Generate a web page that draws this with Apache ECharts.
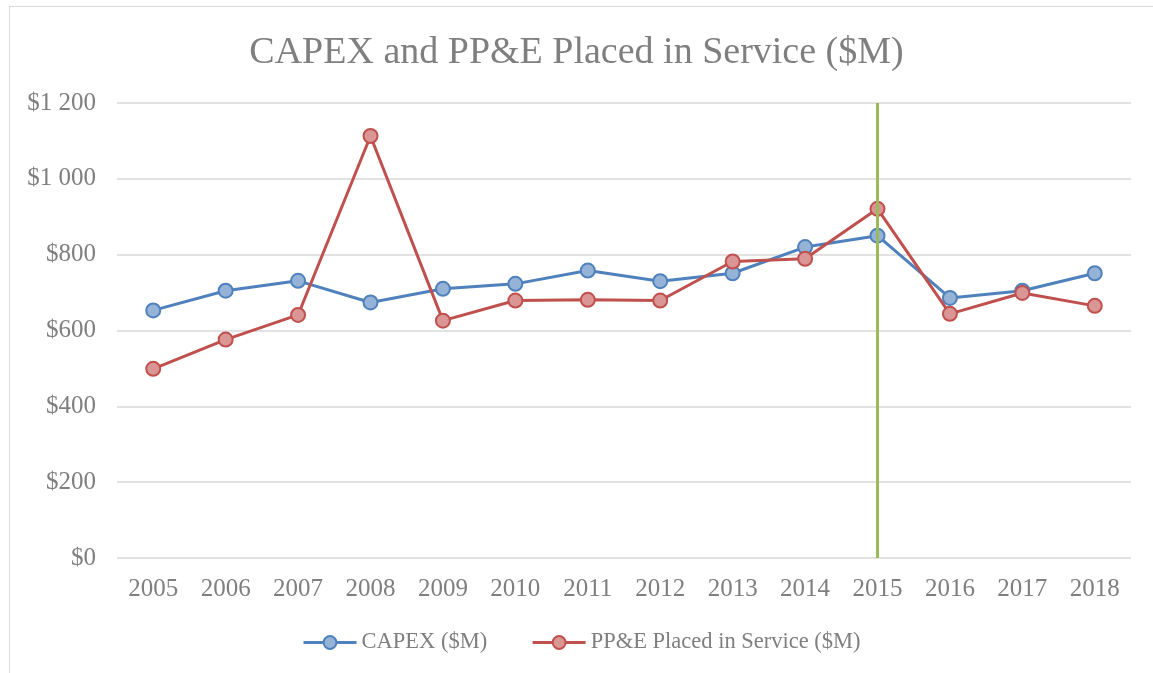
<!DOCTYPE html>
<html>
<head>
<meta charset="utf-8">
<script src="https://cdn.jsdelivr.net/npm/echarts@6/dist/echarts.min.js"></script>
<style>
  html, body { margin: 0; padding: 0; background: #fff; }
  #frame { position: absolute; left: 9px; top: 6px; width: 1160px; height: 680px; border: 1.5px solid #d9d9d9; box-sizing: border-box; }
  #chart { position: absolute; left: 0; top: 0; width: 1153px; height: 673px; }
</style>
</head>
<body>
<div id="frame"></div>
<div id="chart"></div>
<script>
// 数据
var years = ['2005', '2006', '2007', '2008', '2009', '2010', '2011', '2012', '2013', '2014', '2015', '2016', '2017', '2018'];
var capex = [653, 705, 731, 674, 710, 723, 758, 730, 751, 820, 850, 686, 705, 751];
var ppe = [499, 576, 641, 1113, 626, 679, 681, 679, 782, 789, 921, 644, 699, 665];
var markYear = '2015';

var fontFamily = '"Liberation Serif", serif';
var textColor = '#7f7f7f';

var chart = echarts.init(document.getElementById('chart'));

// 千位用空格分隔
function money(v) {
    return '$' + String(v).replace(/\B(?=(\d{3})+(?!\d))/g, ' ');
}

var option = {
    animation: false,
    title: {
        text: 'CAPEX and PP&E Placed in Service ($M)',
        left: 'center',
        top: 29,
        textStyle: { fontFamily: fontFamily, fontSize: 38, fontWeight: 'normal', color: textColor }
    },
    legend: {
        left: 297,
        bottom: 14,
        itemWidth: 53,
        itemHeight: 16,
        itemGap: 44,
        lineStyle: { width: 3 },
        textStyle: { fontFamily: fontFamily, fontSize: 22.5, color: textColor },
        data: ['CAPEX ($M)', 'PP&E Placed in Service ($M)']
    },
    grid: { left: 117, right: 22, top: 103, bottom: 115 },
    xAxis: {
        type: 'category',
        data: years,
        axisLine: { show: false },
        axisTick: { show: false },
        axisLabel: { fontFamily: fontFamily, fontSize: 25, color: textColor, margin: 19 }
    },
    yAxis: {
        type: 'value',
        min: 0,
        max: 1200,
        interval: 200,
        axisLine: { show: false },
        axisTick: { show: false },
        splitLine: { lineStyle: { color: '#d9d9d9', width: 1.5 } },
        axisLabel: { fontFamily: fontFamily, fontSize: 25, color: textColor, margin: 21, formatter: money }
    },
    series: [
        {
            name: 'CAPEX ($M)',
            type: 'line',
            data: capex,
            symbol: 'circle',
            symbolSize: 14,
            lineStyle: { color: '#4f81bd', width: 3 },
            itemStyle: { color: '#95b3d7', borderColor: '#4f81bd', borderWidth: 2 },
            z: 3
        },
        {
            name: 'PP&E Placed in Service ($M)',
            type: 'line',
            data: ppe,
            symbol: 'circle',
            symbolSize: 14,
            lineStyle: { color: '#c0504d', width: 3 },
            itemStyle: { color: '#d99694', borderColor: '#c0504d', borderWidth: 2 },
            z: 4,
            markLine: {
                silent: true,
                symbol: 'none',
                label: { show: false },
                lineStyle: { color: '#9bbb59', width: 3, type: 'solid' },
                data: [{ xAxis: markYear }]
            }
        }
    ]
};

chart.setOption(option);
</script>
</body>
</html>
